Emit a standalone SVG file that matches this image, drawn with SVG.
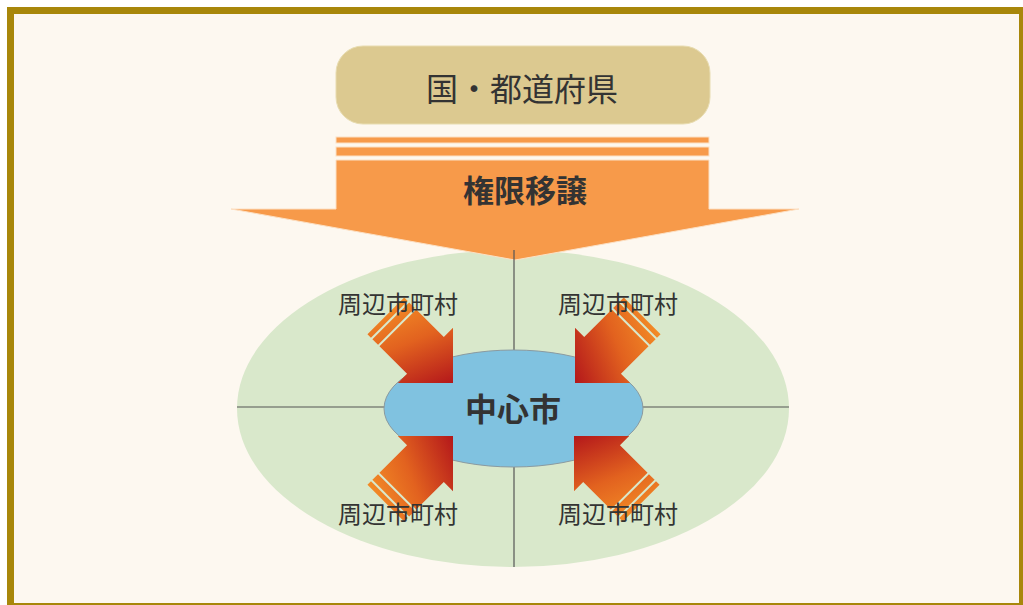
<svg xmlns="http://www.w3.org/2000/svg" width="1023" height="605" viewBox="0 0 1023 605">
<style>
.t{font-family:"Noto Sans CJK JP","Noto Sans",sans-serif;fill:#333333;text-anchor:middle}
.lbl{font-size:24px}
.b{font-weight:bold}
.axis{stroke:#555555;stroke-width:1.2;fill:none}
</style>
<defs>
<linearGradient id="ag" gradientUnits="userSpaceOnUse" x1="-95" y1="-20" x2="0" y2="20">
<stop offset="0" stop-color="#f28a26"/>
<stop offset="0.4" stop-color="#e2621f"/>
<stop offset="1" stop-color="#ad0d1a"/>
</linearGradient>
<g id="sarrow">
<polygon points="-95,-26 -90,-26 -90,26 -95,26" fill="url(#ag)"/>
<polygon points="-88,-26 -80,-26 -80,26 -88,26" fill="url(#ag)"/>
<polygon points="-78,-26 -39,-26 -39,-39 0,0 -39,39 -39,26 -78,26" fill="url(#ag)"/>
</g>
</defs>
<rect x="0" y="0" width="1023" height="605" fill="#ffffff"/>
<rect x="10.5" y="10.5" width="1012" height="596" fill="#fdf8f0" stroke="#a8870a" stroke-width="7"/>

<g id="area">
<ellipse cx="513" cy="408.5" rx="276" ry="158.5" fill="#d9e8cb"/>
</g>

<g id="top">
<rect x="336" y="46" width="374" height="78" rx="27" fill="#dcc990" stroke="#e8dcb0" stroke-width="1"/>
<text class="t" x="522" y="101" font-size="32">国・都道府県</text>
</g>

<g id="transfer">
<rect x="336" y="137" width="373" height="6" fill="#f79a4a" stroke="#fce0c4" stroke-width="1"/>
<rect x="336" y="147" width="373" height="9" fill="#f79a4a" stroke="#fce0c4" stroke-width="1"/>
<polygon points="336,160 709,160 709,209 799,209 515,260 231,209 336,209" fill="#f79a4a" stroke="#fce0c4" stroke-width="1"/>
<text class="t b" x="525" y="202" font-size="31">権限移譲</text>
</g>

<g id="connectors">
<line class="axis" x1="514" y1="250" x2="514" y2="567"/>
<line class="axis" x1="237" y1="407" x2="789" y2="407"/>
</g>

<g id="center">
<ellipse cx="513.5" cy="408.5" rx="129.5" ry="58.5" fill="#80c2e0" stroke="#8a9aa0" stroke-width="1"/>
</g>

<g id="arrows">
<use href="#sarrow" transform="translate(453,383) rotate(45)"/>
<use href="#sarrow" transform="translate(575,383) rotate(135)"/>
<use href="#sarrow" transform="translate(453,436) rotate(-45)"/>
<use href="#sarrow" transform="translate(574,436) rotate(-135)"/>
</g>

<g id="center-label">
<text class="t b" x="513" y="421" font-size="32">中心市</text>
</g>

<g id="tl"><text class="t lbl" x="398" y="313">周辺市町村</text></g>
<g id="tr"><text class="t lbl" x="618" y="313">周辺市町村</text></g>
<g id="bl"><text class="t lbl" x="398" y="523">周辺市町村</text></g>
<g id="br"><text class="t lbl" x="618" y="523">周辺市町村</text></g>
</svg>
